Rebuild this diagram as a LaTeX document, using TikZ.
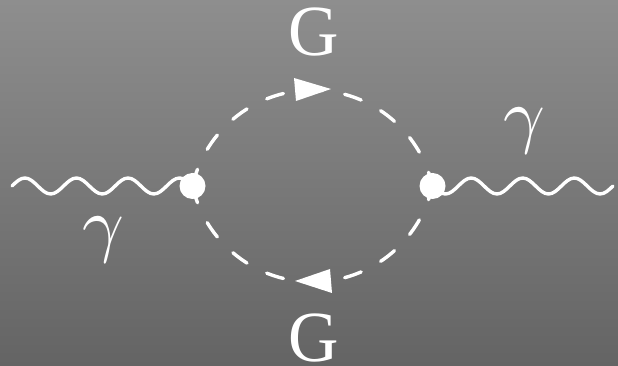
\documentclass[tikz,border=0pt]{standalone}
\usepackage{fontspec}
\setmainfont{Liberation Serif}
\usetikzlibrary{calc}
\tikzset{
  wave/.style={draw=white,line width=3.4pt,line cap=round,line join=round},
  dashline/.style={draw=white,line width=3.4pt,line cap=round,dash pattern=on 17.5pt off 22.2pt},
  vertexdot/.style={circle,fill=white,inner sep=0pt,minimum size=26pt},
  headfill/.style={fill=white},
  lblg/.style={text=white,inner sep=0pt,font=\fontsize{72}{72}\selectfont,xscale=0.97},
  lblc/.style={text=white,inner sep=0pt,scale=7.3}
}
\begin{document}
\begin{tikzpicture}[x=1pt,y=1pt]
\useasboundingbox (0,0) rectangle (618,366);
\shade[top color={rgb,255:red,142;green,142;blue,142},bottom color={rgb,255:red,100;green,100;blue,100}] (0,0) rectangle (618,366);
\coordinate (a) at (12,180);
\coordinate (b) at (613,180);
\coordinate (L) at (192.5,180);
\coordinate (R) at (432.5,180);
\def\q{12.89}
\draw[wave] (a) sin ++(\q,8) cos ++(\q,-8) sin ++(\q,-8) cos ++(\q,8)
  sin ++(\q,8) cos ++(\q,-8) sin ++(\q,-8) cos ++(\q,8)
  sin ++(\q,8) cos ++(\q,-8) sin ++(\q,-8) cos ++(\q,8)
  sin ++(\q,8) cos ++(\q,-8);
\draw[wave] (R) sin ++(\q,-8) cos ++(\q,8) sin ++(\q,8) cos ++(\q,-8)
  sin ++(\q,-8) cos ++(\q,8) sin ++(\q,8) cos ++(\q,-8)
  sin ++(\q,-8) cos ++(\q,8) sin ++(\q,8) cos ++(\q,-8)
  sin ++(\q,-8) cos ++(\q,8);
\draw[dashline] (L) arc[start angle=167.3,end angle=12.7,radius=123];
\draw[dashline] (L) arc[start angle=192.7,end angle=347.3,radius=123];
\fill[headfill] (294,288) -- (331,277) -- (296,265) -- cycle;
\fill[headfill] (295,85) -- (330,97) -- (332,73) -- cycle;
\node[vertexdot] (Lv) at (L) {};
\node[vertexdot] (Rv) at (R) {};
\node[lblg] (g1) at (313.5,333.5) {G};
\node[lblg] (g2) at (313.5,27.5) {G};
\node[lblc] (ga1) at (103,126.5) {$\gamma$};
\node[lblc] (ga2) at (524,235.5) {$\gamma$};
\end{tikzpicture}
\end{document}
